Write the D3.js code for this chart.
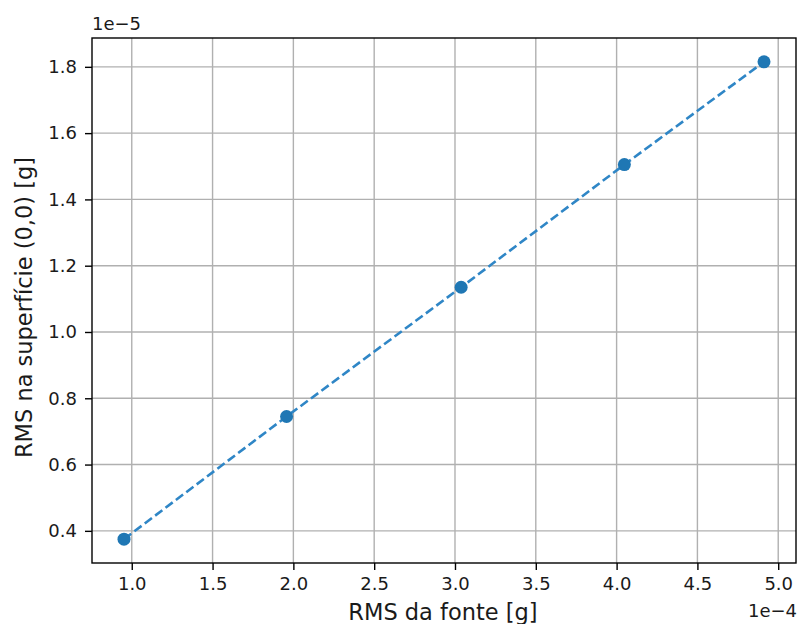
<!DOCTYPE html>
<html><head><meta charset="utf-8">
<script src="https://cdn.jsdelivr.net/npm/d3@7"></script>
<style>body{margin:0;background:#fff}svg{font-family:"DejaVu Sans",sans-serif}</style>
</head><body><svg id="c" width="797" height="624"></svg>
<script>
const xValues = [0.952, 1.958, 3.038, 4.048, 4.912];
const yValues = [0.375, 0.745, 1.135, 1.505, 1.815];
const xTicks = [1.0, 1.5, 2.0, 2.5, 3.0, 3.5, 4.0, 4.5, 5.0];
const yTicks = [0.4, 0.6, 0.8, 1.0, 1.2, 1.4, 1.6, 1.8];
const xLabel = "RMS da fonte [g]";
const yLabel = "RMS na superfície (0,0) [g]";
const xOffset = "1e−4", yOffset = "1e−5";

const svg = d3.select("#c");
const L = 92, R = 796, T = 38, B = 563;
const pad = (a) => { const e = d3.extent(a), d = e[1]-e[0]; return [e[0]-0.05*d, e[1]+0.05*d]; };
const x = d3.scaleLinear().domain(pad(xValues)).range([L, R]);
const y = d3.scaleLinear().domain(pad(yValues)).range([B, T]);

const g = svg.append("g");
g.selectAll(".gx").data(xTicks).enter().append("line")
  .attr("x1", d => x(d)).attr("x2", d => x(d)).attr("y1", T).attr("y2", B)
  .attr("stroke", "#b0b0b0").attr("stroke-width", 1.4);
g.selectAll(".gy").data(yTicks).enter().append("line")
  .attr("y1", d => y(d)).attr("y2", d => y(d)).attr("x1", L).attr("x2", R)
  .attr("stroke", "#b0b0b0").attr("stroke-width", 1.4);

const xa = svg.append("g").attr("transform", `translate(0,${B})`)
  .call(d3.axisBottom(x).tickValues(xTicks).tickFormat(d3.format(".1f")).tickSize(7).tickPadding(7));
const ya = svg.append("g").attr("transform", `translate(${L},0)`)
  .call(d3.axisLeft(y).tickValues(yTicks).tickFormat(d3.format(".1f")).tickSize(7).tickPadding(8));
[xa, ya].forEach(a => {
  a.select(".domain").remove();
  a.selectAll("line").attr("stroke", "#000").attr("stroke-width", 1.4);
  a.selectAll("text").attr("font-size", 18).attr("fill", "#1a1a1a").attr("font-family", '"DejaVu Sans",sans-serif');
});

svg.append("rect").attr("x", L).attr("y", T).attr("width", R-L).attr("height", B-T)
  .attr("fill", "none").attr("stroke", "#000").attr("stroke-width", 1.4);

const pts = xValues.map((v, i) => [v, yValues[i]]);
svg.append("path").datum(pts)
  .attr("d", d3.line().x(d => x(d[0])).y(d => y(d[1])))
  .attr("fill", "none").attr("stroke", "#2f86c6").attr("stroke-width", 2.6)
  .attr("stroke-dasharray", "9,4");
svg.selectAll(".pt").data(pts).enter().append("circle")
  .attr("cx", d => x(d[0])).attr("cy", d => y(d[1])).attr("r", 6.5)
  .attr("fill", "#1f77b4");

svg.append("text").attr("x", 92).attr("y", 30).attr("font-size", 18).attr("fill", "#1a1a1a").text(yOffset);
svg.append("text").attr("x", 797).attr("y", 617).attr("text-anchor", "end").attr("font-size", 18).attr("fill", "#1a1a1a").text(xOffset);
svg.append("text").attr("x", (L+R)/2 - 1).attr("y", 620).attr("text-anchor", "middle").attr("font-size", 22.5).attr("fill", "#1a1a1a").text(xLabel);
svg.append("text").attr("transform", `translate(32,${(T+B)/2 + 7}) rotate(-90)`).attr("text-anchor", "middle").attr("font-size", 22.5).attr("fill", "#1a1a1a").text(yLabel);
</script></body></html>
